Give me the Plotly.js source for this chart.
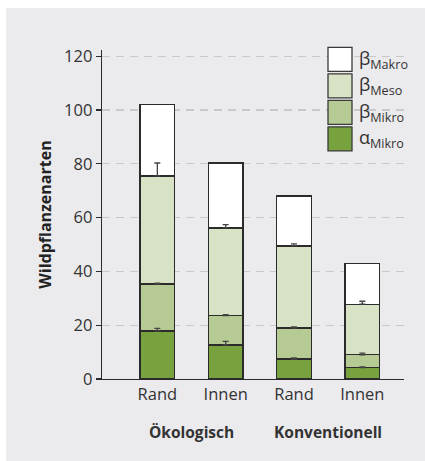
<!DOCTYPE html>
<html>
<head>
<meta charset="utf-8">
<script src="https://cdn.plot.ly/plotly-3.0.1.min.js"></script>
<style>
  html, body { margin: 0; padding: 0; background: #ffffff; }
  #chart { position: absolute; left: 6px; top: 8px; width: 419px; height: 453px; }
</style>
</head>
<body>
<div id="chart"></div>
<script>
// ---- data ----
const categories = ["Rand", "Innen", "Rand", "Innen"];
const groups = ["Ökologisch", "Konventionell"];
const seriesNames = ["α<sub>Mikro</sub>", "β<sub>Mikro</sub>", "β<sub>Meso</sub>", "β<sub>Makro</sub>"];
const alphaMikro = [17.8, 12.7, 7.4, 4.2];
const betaMikro  = [17.5, 10.9, 11.5, 4.8];
const betaMeso   = [40.2, 32.6, 30.6, 18.8];
const betaMakro  = [26.5, 24.1, 18.5, 15.2];
const errAlphaMikro = [1.0, 1.3, 0.4, 0.3];
const errBetaMikro  = [0.3, 0.3, 0.5, 0.6];
const errBetaMeso   = [4.8, 1.2, 0.7, 1.1];
const yTicks = [0, 20, 40, 60, 80, 100, 120];

// ---- style ----
const colors = ["#77a23d", "#b5cb93", "#d8e2c5", "#ffffff"];
const panel = "#ebebed";
const ink = "#333333";
const font = "Open Sans, DejaVu Sans, sans-serif";

const xs = categories.map((_, i) => i);
const values = [alphaMikro, betaMikro, betaMeso, betaMakro];
const errors = [errAlphaMikro, errBetaMikro, errBetaMeso, null];

const traces = values.map((v, k) => ({
  type: "bar",
  x: xs,
  y: v,
  name: seriesNames[k],
  width: 0.51,
  marker: { color: colors[k], line: { color: "#2b2b2b", width: 1.4 } },
  showlegend: false,
  hoverinfo: "y"
}));

// error bars at the top of each stacked segment, drawn above all bars
let cum = xs.map(() => 0);
values.forEach((v, k) => {
  cum = cum.map((c, i) => c + v[i]);
  if (errors[k]) {
    traces.push({
      type: "scatter", mode: "markers", x: xs, y: cum.slice(),
      marker: { size: 1, opacity: 0 }, showlegend: false, hoverinfo: "skip",
      error_y: {
        type: "data", symmetric: false,
        array: errors[k], arrayminus: errors[k].map(() => 0),
        color: "#444444", thickness: 1.3, width: 3
      }
    });
  }
});

// custom legend (top entry = last series)
const shapes = [{
  type: "rect", xref: "paper", yref: "paper", layer: "between",
  x0: 0.695, x1: 1.0, y0: 0.667, y1: 1.02,
  fillcolor: panel, line: { width: 0 }
}];
const annotations = [];
const boxH = 24 / 329, step = 26.5 / 329, boxW = 24 / 302;
const lx0 = (328 - 102) / 302, ytop = (379 - 47.3) / 329;
for (let j = 0; j < 4; j++) {
  const k = 3 - j;
  const y1 = ytop - j * step, y0 = y1 - boxH;
  shapes.push({
    type: "rect", xref: "paper", yref: "paper", layer: "above",
    x0: lx0, x1: lx0 + boxW, y0: y0, y1: y1,
    fillcolor: colors[k], line: { color: "#3a3a3a", width: 1.3 }
  });
  annotations.push({
    xref: "paper", yref: "paper", x: lx0 + boxW + 5 / 302, y: (y0 + y1) / 2,
    xanchor: "left", yanchor: "middle", showarrow: false,
    text: seriesNames[k], font: { family: font, size: 18, color: ink }
  });
}
groups.forEach((g, gi) => {
  annotations.push({
    xref: "x", yref: "paper", x: gi * 2 + 0.5, y: 0, yshift: -53,
    xanchor: "center", yanchor: "middle", showarrow: false,
    text: "<b>" + g + "</b>", font: { family: font, size: 15.5, color: ink }
  });
});

const layout = {
  width: 419, height: 453,
  margin: { l: 96, r: 21, t: 42, b: 82 },
  paper_bgcolor: panel, plot_bgcolor: panel,
  barmode: "stack",
  font: { family: font, color: ink },
  xaxis: {
    range: [-0.81, 3.61], tickvals: xs, ticktext: categories,
    showgrid: false, zeroline: false, showline: true, linecolor: "#2b2b2b", linewidth: 1.3,
    ticks: "", tickfont: { family: font, size: 16.5, color: ink }, fixedrange: true
  },
  yaxis: {
    range: [0, 122.3], tickvals: yTicks,
    showgrid: true, gridcolor: "#c9c9cb", gridwidth: 1.2, griddash: "8px,6px",
    zeroline: false, showline: true, linecolor: "#2b2b2b", linewidth: 1.3,
    ticks: "outside", ticklen: 5, tickcolor: "#2b2b2b", tickwidth: 1.3,
    tickfont: { family: font, size: 16.5, color: ink },
    title: { text: "<b>Wildpflanzenarten</b>", font: { family: font, size: 16, color: "#222" }, standoff: 8 },
    fixedrange: true
  },
  shapes: shapes,
  annotations: annotations
};

Plotly.newPlot("chart", traces, layout, { displayModeBar: false, staticPlot: true });
</script>
</body>
</html>
